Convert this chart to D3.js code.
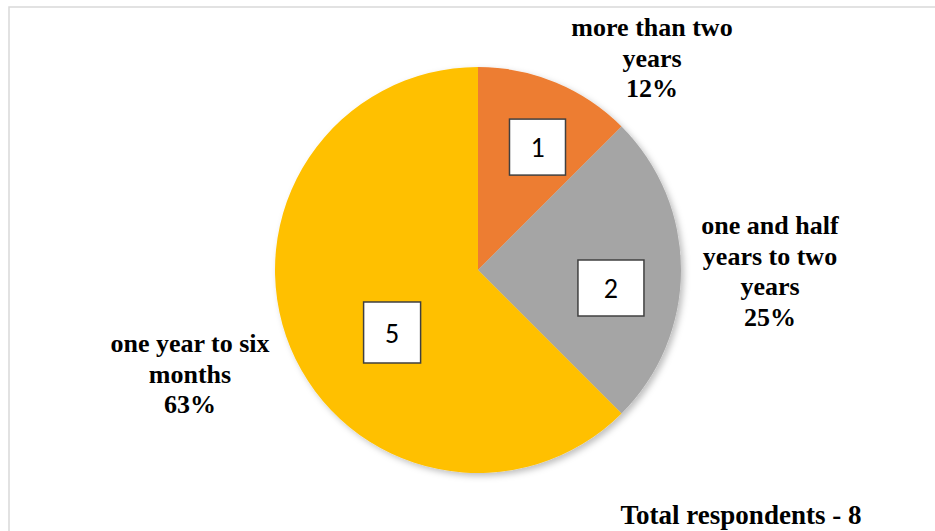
<!DOCTYPE html>
<html>
<head>
<meta charset="utf-8">
<script src="https://cdn.jsdelivr.net/npm/d3@7"></script>
<style>
  body { margin: 0; background: #fff; }
  svg { display: block; }
</style>
</head>
<body>
<script>
// chart data
let categories = ["more than two years", "one and half years to two years", "one year to six months"];
let counts = [1, 2, 5];
let percentLabels = ["12%", "25%", "63%"];
let labelLines = [["more than two", "years"], ["one and half", "years to two", "years"], ["one year to six", "months"]];
let colors = ["#ED7D31", "#A5A5A5", "#FFC000"];
let totalText = "Total respondents - 8";

// canvas
let width = 935, height = 531;
let cx = 478, cy = 270, radius = 203;
let serif = "Liberation Serif, Times New Roman, Times, serif";

// where the outside labels sit (centre x, first baseline y)
let labelPos = [{x: 652, y: 36}, {x: 770, y: 234}, {x: 190, y: 352}];
// boxes with the counts, nudged from the arc centroid
let boxNudge = [{dx: 9, dy: -1, w: 56, h: 56}, {dx: 1, dy: 18, w: 66, h: 56}, {dx: 36, dy: 12, w: 57, h: 61}];

let svg = d3.select("body").append("svg").attr("width", width).attr("height", height);

// chart area border
svg.append("rect")
  .attr("x", 9).attr("y", 7)
  .attr("width", 940).attr("height", 540)
  .attr("fill", "none")
  .attr("stroke", "#d9d9d9")
  .attr("stroke-width", 1.5);

// soft shadow under the pie
let defs = svg.append("defs");
let f = defs.append("filter").attr("id", "shadow").attr("x", "-10%").attr("y", "-10%").attr("width", "130%").attr("height", "130%");
f.append("feDropShadow").attr("dx", 3).attr("dy", 3).attr("stdDeviation", 3).attr("flood-color", "#000").attr("flood-opacity", 0.25);

let pie = d3.pie().sort(null).value((d) => d);
let arcs = pie(counts);
let arc = d3.arc().innerRadius(0).outerRadius(radius);
let boxArc = d3.arc().innerRadius(0).outerRadius(radius * 1.3);

let pieGroup = svg.append("g").attr("transform", "translate(" + cx + "," + cy + ")");

pieGroup.append("g").attr("filter", "url(#shadow)")
  .selectAll("path")
  .data(arcs)
  .enter()
  .append("path")
  .attr("d", arc)
  .attr("fill", (d, i) => colors[i]);

// count boxes
let boxes = pieGroup.selectAll(".box")
  .data(arcs)
  .enter()
  .append("g")
  .attr("class", "box")
  .attr("transform", (d, i) => {
    let c = boxArc.centroid(d);
    return "translate(" + (c[0] + boxNudge[i].dx) + "," + (c[1] + boxNudge[i].dy) + ")";
  });

boxes.append("rect")
  .attr("x", (d, i) => -boxNudge[i].w / 2)
  .attr("y", (d, i) => -boxNudge[i].h / 2)
  .attr("width", (d, i) => boxNudge[i].w)
  .attr("height", (d, i) => boxNudge[i].h)
  .attr("fill", "#fff")
  .attr("stroke", "#404040")
  .attr("stroke-width", 1.5);

boxes.append("text")
  .attr("text-anchor", "middle")
  .attr("dy", "0.36em")
  .attr("font-family", "Carlito, Open Sans, Liberation Sans, sans-serif")
  .attr("font-size", "28px")
  .attr("fill", "#000")
  .text((d) => d.data);

// category labels outside the pie
let labels = svg.selectAll(".lbl")
  .data(categories)
  .enter()
  .append("text")
  .attr("class", "lbl")
  .attr("text-anchor", "middle")
  .attr("font-family", serif)
  .attr("font-weight", "bold")
  .attr("font-size", "26px")
  .attr("fill", "#000");

labels.each(function(d, i) {
  let t = d3.select(this);
  let lines = labelLines[i].concat([percentLabels[i]]);
  lines.forEach((s, j) => {
    t.append("tspan")
      .attr("x", labelPos[i].x)
      .attr("y", labelPos[i].y + j * 30.5)
      .text(s);
  });
});

// total respondents note
svg.append("text")
  .attr("x", 741)
  .attr("y", 524)
  .attr("text-anchor", "middle")
  .attr("font-family", serif)
  .attr("font-weight", "bold")
  .attr("font-size", "27px")
  .attr("fill", "#000")
  .text(totalText);
</script>
</body>
</html>
